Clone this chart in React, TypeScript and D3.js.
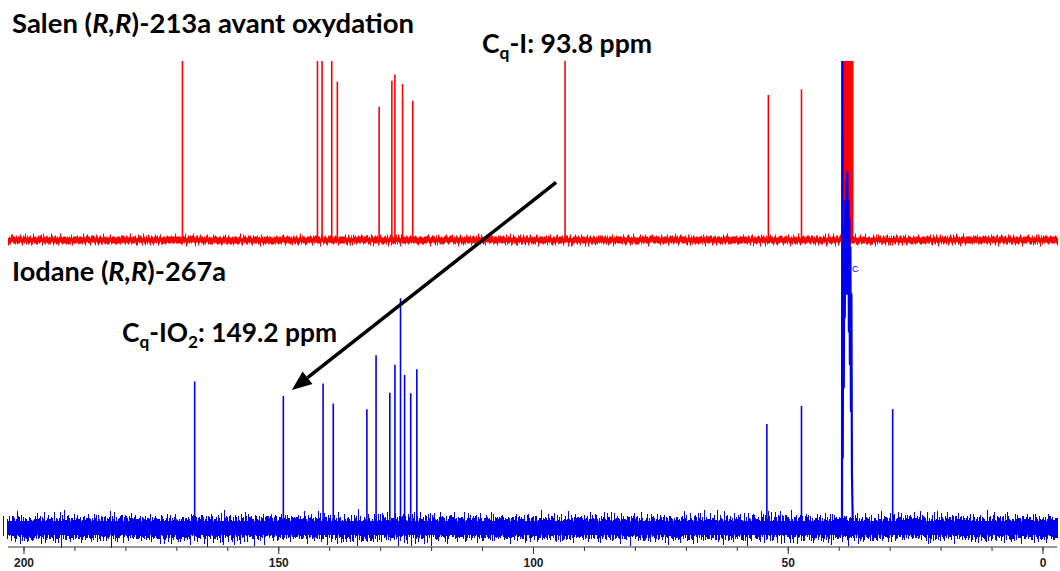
import React from "react";
import * as d3 from "d3";

// ---- data ----
const axisTickLabels = [200, 150, 100, 50, 0];
const minorTickValues = d3.range(0, 201, 10);

// Salen (R,R)-213a (red trace)
const redPeakPpm = [168.9, 142.4, 141.5, 139.6, 138.5, 130.3, 127.8, 127.2, 125.7, 123.7, 93.8, 53.9, 47.4];
const redPeakHeight = [1.3, 1.3, 1.3, 1.3, 0.88, 0.74, 0.885, 0.92, 0.867, 0.774, 1.3, 0.806, 0.837];
const redSolventPpm = [39.29, 38.98, 38.67, 38.35, 38.04, 37.72, 37.41];
const redSolventHeight = [1.3, 1.3, 1.3, 1.3, 1.3, 1.3, 1.3];

// Iodane (R,R)-267a (blue trace)
const bluePeakPpm = [166.5, 149.1, 141.3, 139.3, 132.7, 130.9, 128.2, 127.2, 126.1, 125.3, 124.1, 122.9, 54.2, 47.4, 29.5];
const bluePeakHeight = [0.313, 0.282, 0.309, 0.266, 0.254, 0.369, 0.289, 0.349, 0.491, 0.327, 0.288, 0.339, 0.222, 0.261, 0.254];
const blueSolventPpm = [39.45, 39.39, 39.3, 39.2, 39.1, 39.0, 38.9, 38.8, 38.7, 38.6, 38.5, 38.4, 38.3, 38.2, 38.1, 38.0, 37.9, 37.8, 37.7, 37.6, 37.5, 37.4, 37.3];
const blueSolventHeight = [0, 1.2, 0.15, 0.62, 0.3, 0.64, 0.45, 0.7, 0.5, 0.74, 0.55, 0.76, 0.5, 0.7, 0.42, 0.66, 0.35, 0.6, 0.25, 0.5, 0.12, 0.05, 0];

const RED = "#ff0000";
const BLUE = "#0000ee";

export default function App() {
  const x = d3.scaleLinear().domain([200, 0]).range([24, 1043]);
  const yRed = d3.scaleLinear().domain([0, 1]).range([240, 60]);
  const yBlue = d3.scaleLinear().domain([0, 1]).range([528, 60]);

  const blueSolventLine = d3
    .line<number>()
    .x((_, i) => x(blueSolventPpm[i]))
    .y((d) => yBlue(d));

  const arrowTip = { x: x(149.2) + 9, y: yBlue(0.282) - 6 };
  const arrowStart = { x: x(93.8) - 9, y: yRed(0.32) };
  const ang = Math.atan2(arrowTip.y - arrowStart.y, arrowTip.x - arrowStart.x);
  const headLen = 20;
  const headW = 8;
  const bx = arrowTip.x - headLen * Math.cos(ang);
  const by = arrowTip.y - headLen * Math.sin(ang);
  const head = [
    [arrowTip.x, arrowTip.y],
    [bx + headW * Math.sin(ang), by - headW * Math.cos(ang)],
    [bx - headW * Math.sin(ang), by + headW * Math.cos(ang)],
  ];

  const titleStyle: React.CSSProperties = { fontFamily: "Lato, 'Open Sans', sans-serif", fontWeight: 700, fontSize: 26 };

  return (
    <svg
      width={1060}
      height={571}
      style={{ position: "absolute", left: 0, top: 0, background: "#fff" }}
    >
      <defs>
        <clipPath id="plotClip">
          <rect x={0} y={61} width={1060} height={510} />
        </clipPath>
        <filter id="noiseRed" filterUnits="userSpaceOnUse" x={0} y={215} width={1060} height={50}>
          <feTurbulence type="fractalNoise" baseFrequency="0.6 0.0001" numOctaves={3} seed={4} result="t" />
          <feDisplacementMap in="SourceGraphic" in2="t" scale={12} xChannelSelector="A" yChannelSelector="G" />
        </filter>
        <filter id="noiseBlue" filterUnits="userSpaceOnUse" x={0} y={480} width={1060} height={90}>
          <feTurbulence type="fractalNoise" baseFrequency="0.7 0.0001" numOctaves={3} seed={9} result="t" />
          <feDisplacementMap in="SourceGraphic" in2="t" scale={30} xChannelSelector="A" yChannelSelector="G" />
        </filter>
      </defs>

      {/* red trace */}
      <rect x={8} y={238} width={1050} height={4} fill={RED} />
      <rect x={8} y={236.5} width={1050} height={7} fill={RED} filter="url(#noiseRed)" />
      <g clipPath="url(#plotClip)" stroke={RED}>
        {redPeakPpm.map((p, i) => (
          <line key={"r" + i} x1={x(p)} x2={x(p)} y1={yRed(0)} y2={yRed(redPeakHeight[i])} strokeWidth={1.6} />
        ))}
        {redSolventPpm.map((p, i) => (
          <line key={"rs" + i} x1={x(p)} x2={x(p)} y1={yRed(0)} y2={yRed(redSolventHeight[i])} strokeWidth={2.2} />
        ))}
      </g>

      {/* blue trace */}
      <rect x={8} y={521} width={1050} height={14} fill={BLUE} />
      <rect x={8} y={518} width={1050} height={20} fill={BLUE} filter="url(#noiseBlue)" />
      <g clipPath="url(#plotClip)" stroke={BLUE}>
        {bluePeakPpm.map((p, i) => (
          <line key={"b" + i} x1={x(p)} x2={x(p)} y1={yBlue(0)} y2={yBlue(bluePeakHeight[i])} strokeWidth={1.6} />
        ))}
        <path d={blueSolventLine(blueSolventHeight) || ""} fill="none" strokeWidth={2.2} strokeLinejoin="round" />
      </g>
      <text x={852} y={272} fill={BLUE} fontSize={9} fontFamily="Liberation Sans, Arial, sans-serif">C</text>

      {/* axis */}
      <g stroke="#333">
        <line x1={8} x2={1057} y1={547} y2={547} strokeWidth={1} />
        {minorTickValues.map((t) => (
          <line key={"m" + t} x1={x(t)} x2={x(t)} y1={547} y2={551} strokeWidth={1} />
        ))}
        {axisTickLabels.map((t) => (
          <line key={"M" + t} x1={x(t)} x2={x(t)} y1={547} y2={554} strokeWidth={1} />
        ))}
      </g>
      {axisTickLabels.map((t) => (
        <text
          key={"l" + t}
          x={x(t)}
          y={567}
          textAnchor="middle"
          fontFamily="'Liberation Sans', Arial, sans-serif"
          fontWeight={700}
          fontSize={12}
          fill="#222"
        >
          {t}
        </text>
      ))}

      {/* arrow */}
      <line x1={arrowStart.x} y1={arrowStart.y} x2={bx} y2={by} stroke="#000" strokeWidth={3.5} />
      <polygon points={head.map((p) => p.join(",")).join(" ")} fill="#000" />

      {/* labels */}
      <text x={12} y={33} style={titleStyle} fill="#000" textLength={402} lengthAdjust="spacingAndGlyphs">
        Salen (<tspan fontStyle="italic">R,R</tspan>)-213a avant oxydation
      </text>
      <text x={482} y={53} style={titleStyle} fill="#000" textLength={170} lengthAdjust="spacingAndGlyphs">
        C<tspan fontSize={17} dy={6}>q</tspan><tspan dy={-6}>-I: 93.8 ppm</tspan>
      </text>
      <text x={12} y={281} style={titleStyle} fill="#000" textLength={214} lengthAdjust="spacingAndGlyphs">
        Iodane (<tspan fontStyle="italic">R,R</tspan>)-267a
      </text>
      <text x={122} y={342} style={titleStyle} fill="#000" textLength={215} lengthAdjust="spacingAndGlyphs">
        C<tspan fontSize={17} dy={6}>q</tspan><tspan dy={-6}>-IO</tspan><tspan fontSize={17} dy={6}>2</tspan><tspan dy={-6}>: 149.2 ppm</tspan>
      </text>
    </svg>
  );
}
